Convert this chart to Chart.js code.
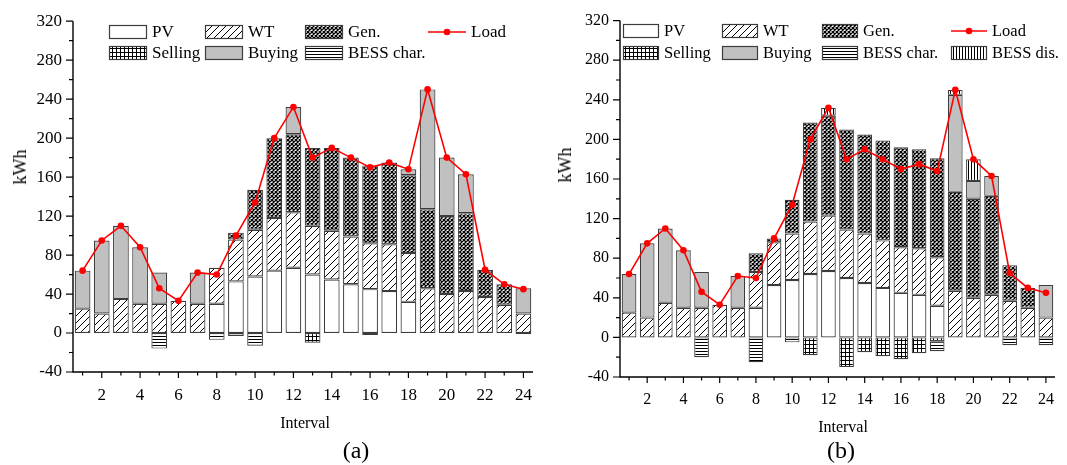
<!DOCTYPE html>
<html><head><meta charset="utf-8">
<script src="https://cdn.jsdelivr.net/npm/chart.js@4.4.1/dist/chart.umd.min.js"></script>
<style>
html,body{margin:0;padding:0;background:#fff;width:1067px;height:465px;overflow:hidden;font-family:'Liberation Serif','Times New Roman',serif;}
#wrapA{position:absolute;left:0;top:0;width:545px;height:465px;}
#wrapB{position:absolute;left:545px;top:0;width:522px;height:465px;}
.t{position:absolute;color:#000;white-space:nowrap;transform:translate(-50%,-50%);line-height:1;}
.ylab{transform:translate(-50%,-50%) rotate(-90deg);}
</style></head><body>
<div id="wrapA"><canvas id="cA" width="545" height="465" style="width:545px;height:465px"></canvas></div>
<div id="wrapB"><canvas id="cB" width="522" height="465" style="width:522px;height:465px"></canvas></div>
<div class="t ylab" style="left:20px;top:167px;font-size:18px">kWh</div>
<div class="t" style="left:305px;top:423px;font-size:16px">Interval</div>
<div class="t" style="left:356px;top:450px;font-size:24px">(a)</div>
<div class="t ylab" style="left:565px;top:165px;font-size:18px">kWh</div>
<div class="t" style="left:843px;top:427px;font-size:16px">Interval</div>
<div class="t" style="left:841px;top:450px;font-size:24px">(b)</div>
<script>
// ---------- data ----------
const intervals = ['1','2','3','4','5','6','7','8','9','10','11','12','13','14','15','16','17','18','19','20','21','22','23','24'];
const yTickValues = [-40,0,40,80,120,160,200,240,280,320];

// panel (a)
const pvA    = [0,0,0,0,0,0,0,30,53,58,64,67,60,55,50,45,43,32,0,0,0,0,0,0];
const wtA    = [25,20,35,30,30,33,30,37,43,48,54,57,50,50,49,47,48,50,46,40,43,37,29,20];
const genA   = [0,0,0,0,0,0,0,0,7,41,82,80,80,85,81,80,84,80,81,80,80,28,21,0];
const sellA  = [0,0,0,0,0,0,0,0,0,0,0,0,-10,0,0,0,0,0,0,0,0,0,0,0];
const buyA   = [39,75,75,58,32,0,32,0,0,0,0,28,0,0,0,0,0,6,123,60,40,0,0,26];
const charA  = [0,0,0,0,-16,0,0,-7,-3,-13,0,0,0,0,0,-2,0,0,0,0,0,0,0,-1];
const loadA  = [64,95,110,88,46,33,62,60,100,134,200,232,180,190,180,170,175,168,250,180,163,65,50,45];

// panel (b)
const pvB    = [0,0,0,0,0,0,0,30,53,58,64,67,60,55,50,45,43,32,0,0,0,0,0,0];
const wtB    = [25,20,35,30,30,33,30,36,43,47,53,56,49,50,48,46,47,49,47,40,43,37,30,20];
const genB   = [0,0,0,0,0,0,0,19,4,34,100,101,101,100,101,101,100,100,100,100,100,36,20,0];
const sellB  = [0,0,0,0,0,0,0,0,0,0,-18,0,-30,-15,-19,-22,-16,-4,0,0,0,0,0,0];
const buyB   = [39,75,75,58,36,0,32,0,0,0,0,0,0,0,0,0,0,0,98,18,20,0,0,33];
const charB  = [0,0,0,0,-20,0,0,-25,0,-5,0,0,0,0,0,0,0,-10,0,0,0,-8,0,-8];
const disB   = [0,0,0,0,0,0,0,0,0,0,0,8,0,0,0,0,0,0,5,22,0,0,0,0];
const loadB  = [64,95,110,88,46,33,62,60,100,134,200,232,180,190,180,170,175,168,250,180,163,65,50,45];

// ---------- styles ----------
function tile(w,h,draw){const c=document.createElement('canvas');c.width=w;c.height=h;const x=c.getContext('2d');x.fillStyle='#fff';x.fillRect(0,0,w,h);x.strokeStyle='#000';x.fillStyle='#000';draw(x);return x.createPattern(c,'repeat');}
const patterns = {
  pv: '#ffffff',
  wt: tile(7,7,x=>{x.lineWidth=1;x.beginPath();x.moveTo(-1,8);x.lineTo(8,-1);x.moveTo(-1,1);x.lineTo(1,-1);x.moveTo(6,8);x.lineTo(8,6);x.stroke();}),
  gen: tile(4,4,x=>{x.lineWidth=1.25;x.beginPath();x.moveTo(-1,-1);x.lineTo(5,5);x.moveTo(5,-1);x.lineTo(-1,5);x.stroke();}),
  sell: tile(4,4,x=>{x.fillRect(0,0,4,1);x.fillRect(0,0,1,4);}),
  buy: '#c0c0c0',
  char: tile(4,3,x=>{x.fillRect(0,0,4,1);}),
  dis: tile(3,4,x=>{x.fillRect(0,0,1,4);})
};
const nz = a => a.map(v => v === 0 ? null : v);
function barDs(label, arr, bg, bp){
  return {type:'bar', label, data:nz(arr), backgroundColor:bg, borderColor:'#3c3c3c', borderWidth:1.2,
          borderSkipped:false, stack:'s', order:2, barPercentage:bp, categoryPercentage:1};
}
function lineDs(arr){
  return {type:'line', label:'Load', data:arr, borderColor:'#ff0000', backgroundColor:'#ff0000', borderWidth:1.6,
          pointRadius:3.3, pointBackgroundColor:'#ff0000', pointBorderWidth:0, order:0, stack:'load', tension:0};
}

function axesPlugin(legend){
  return {id:'axesAndLegend', afterDraw(chart){
    const ctx=chart.ctx, ca=chart.chartArea, xs=chart.scales.x, ys=chart.scales.y;
    ctx.save();
    ctx.strokeStyle='#000'; ctx.lineWidth=1.4;
    ctx.beginPath();
    ctx.moveTo(ca.left, ca.top); ctx.lineTo(ca.left, ca.bottom); ctx.lineTo(ca.right, ca.bottom);
    ctx.stroke();
    ctx.lineWidth=1.2; ctx.beginPath();
    ys.ticks.forEach(t=>{const p=ys.getPixelForValue(t.value);const L=yTickValues.includes(t.value)?7:4;ctx.moveTo(ca.left-L,p);ctx.lineTo(ca.left,p);});
    intervals.forEach((lab,i)=>{const p=xs.getPixelForValue(i);const L=(i+1)%2===0?6:3.5;ctx.moveTo(p,ca.bottom);ctx.lineTo(p,ca.bottom+L);});
    ctx.stroke();
    // legend
    const dsets=chart.data.datasets;
    ctx.font=legend.font+'px "Liberation Serif"'; ctx.textBaseline='middle'; ctx.textAlign='left'; ctx.fillStyle='#000';
    legend.items.forEach(it=>{
      const ds=dsets.find(d=>d.label===it.label);
      const x0=legend.cols[it.c], yc=legend.rows[it.r], w=legend.boxW, h=legend.boxH;
      if(ds.type==='line'){
        ctx.strokeStyle='#ff0000'; ctx.lineWidth=1.6; ctx.beginPath(); ctx.moveTo(x0,yc); ctx.lineTo(x0+w,yc); ctx.stroke();
        ctx.fillStyle='#ff0000'; ctx.beginPath(); ctx.arc(x0+w/2,yc,3.3,0,Math.PI*2); ctx.fill();
      } else {
        ctx.fillStyle=ds.backgroundColor; ctx.fillRect(x0,yc-h/2,w,h);
        ctx.strokeStyle='#3c3c3c'; ctx.lineWidth=1.2; ctx.strokeRect(x0+0.5,yc-h/2+0.5,w-1,h-1);
      }
      ctx.fillStyle='#000'; ctx.fillText(it.label, x0+w+5, yc+1);
    });
    ctx.restore();
  }};
}

function makeChart(id, datasets, cfg){
  return new Chart(document.getElementById(id), {
    type:'bar',
    data:{labels:intervals, datasets},
    options:{
      responsive:false, animation:false, devicePixelRatio:1,
      layout:{padding:{left:0, top:cfg.top, right:cfg.right, bottom:0}},
      plugins:{legend:{display:false}, tooltip:{enabled:false}},
      scales:{
        x:{type:'category', stacked:true, offset:true, grid:{display:false, drawTicks:false}, border:{display:false},
           ticks:{autoSkip:false, maxRotation:0, minRotation:0, padding:cfg.xpad, color:'#000', font:{family:'Liberation Serif', size:cfg.font},
                  callback:function(v,i){return (i+1)%2===0 ? intervals[i] : '';}},
           afterFit:s=>{s.height=cfg.xh;}},
        y:{stacked:true, min:-40, max:320, grid:{display:false, drawTicks:false}, border:{display:false},
           ticks:{stepSize:20, maxTicksLimit:100, autoSkip:false, padding:cfg.ypad, color:'#000', font:{family:'Liberation Serif', size:cfg.font},
                  callback:v=>yTickValues.includes(v)?String(v):''},
           afterFit:s=>{s.width=cfg.yw;}}
      }
    },
    plugins:[axesPlugin(cfg.legend)]
  });
}

const bpA=0.82, bpB=0.81;
makeChart('cA', [
  barDs('PV', pvA, patterns.pv, bpA),
  barDs('WT', wtA, patterns.wt, bpA),
  barDs('Gen.', genA, patterns.gen, bpA),
  barDs('Selling', sellA, patterns.sell, bpA),
  barDs('Buying', buyA, patterns.buy, bpA),
  barDs('BESS char.', charA, patterns.char, bpA),
  lineDs(loadA)
], {top:18, right:2, yw:73, xh:93, xpad:13, ypad:11, font:17,
    legend:{font:17, boxW:38, boxH:14, cols:[109,205,305,428], rows:[32,53],
      items:[{label:'PV',c:0,r:0},{label:'WT',c:1,r:0},{label:'Gen.',c:2,r:0},{label:'Load',c:3,r:0},
             {label:'Selling',c:0,r:1},{label:'Buying',c:1,r:1},{label:'BESS char.',c:2,r:1}]}});

makeChart('cB', [
  barDs('PV', pvB, patterns.pv, bpB),
  barDs('WT', wtB, patterns.wt, bpB),
  barDs('Gen.', genB, patterns.gen, bpB),
  barDs('Selling', sellB, patterns.sell, bpB),
  barDs('Buying', buyB, patterns.buy, bpB),
  barDs('BESS char.', charB, patterns.char, bpB),
  barDs('BESS dis.', disB, patterns.dis, bpB),
  lineDs(loadB)
], {top:17, right:3, yw:75, xh:88, xpad:13, ypad:11, font:16,
    legend:{font:16.5, boxW:36, boxH:14, cols:[78,177,277,406], rows:[31,53],
      items:[{label:'PV',c:0,r:0},{label:'WT',c:1,r:0},{label:'Gen.',c:2,r:0},{label:'Load',c:3,r:0},
             {label:'Selling',c:0,r:1},{label:'Buying',c:1,r:1},{label:'BESS char.',c:2,r:1},{label:'BESS dis.',c:3,r:1}]}});
</script>
</body></html>
